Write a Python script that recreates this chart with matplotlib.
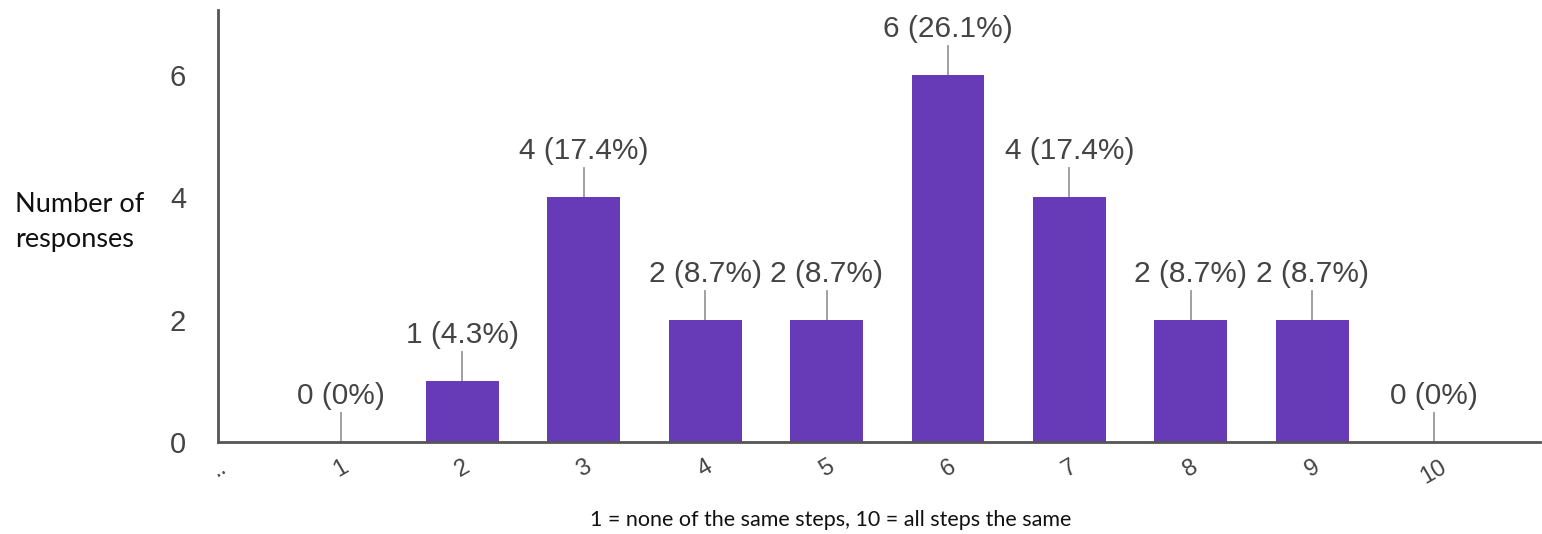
import matplotlib
matplotlib.use("Agg")
import matplotlib.pyplot as plt

# Survey results: how many steps were the same (1 = none, 10 = all)
scores = [1, 2, 3, 4, 5, 6, 7, 8, 9, 10]
counts = [0, 1, 4, 2, 2, 6, 4, 2, 2, 0]
percents = ["0%", "4.3%", "17.4%", "8.7%", "8.7%", "26.1%", "17.4%", "8.7%", "8.7%", "0%"]
tick_labels = ["..", "1", "2", "3", "4", "5", "6", "7", "8", "9", "10"]
y_ticks = [0, 2, 4, 6]

BAR = "#673ab7"
TEXT = "#444444"

fig = plt.figure(figsize=(15.42, 5.34), dpi=100)
ax = fig.add_axes([0.1414, 0.1723, 0.8573, 0.809])

ax.bar(scores, counts, width=0.6, color=BAR, zorder=2)

# Value labels with leader lines
for x, c, p in zip(scores, counts, percents):
    ax.plot([x, x], [c, c + 0.47], color="#999999", lw=1.3, zorder=1)
    ax.text(x, c + 0.52, f"{c} ({p})", ha="center", va="bottom",
            fontsize=21.5, color=TEXT, family="Liberation Sans")

ax.set_xlim(-0.013, 10.876)
ax.set_ylim(0, 7.06)

ax.set_yticks(y_ticks)
ax.set_yticklabels([str(v) for v in y_ticks], fontsize=21, color=TEXT,
                   family="Liberation Sans")
ax.tick_params(axis="y", length=0, pad=23)

ax.set_xticks(range(len(tick_labels)))
ax.set_xticklabels(tick_labels, fontsize=17, color=TEXT,
                   family="Liberation Sans", rotation=30)
ax.tick_params(axis="x", length=0, pad=10)

for s in ["top", "right"]:
    ax.spines[s].set_visible(False)
for s in ["left", "bottom"]:
    ax.spines[s].set_color("#555555")
    ax.spines[s].set_linewidth(2)

fig.text(15 / 1542, 1 - 222 / 534, "Number of\nresponses", ha="left", va="center",
         fontsize=19.5, color="#111111", family="Lato", linespacing=1.45)
fig.text(831 / 1542, 1 - 520 / 534, "1 = none of the same steps, 10 = all steps the same",
         ha="center", va="center", fontsize=15.5, color="#111111", family="Lato")

fig.savefig("out.png", dpi=100)
